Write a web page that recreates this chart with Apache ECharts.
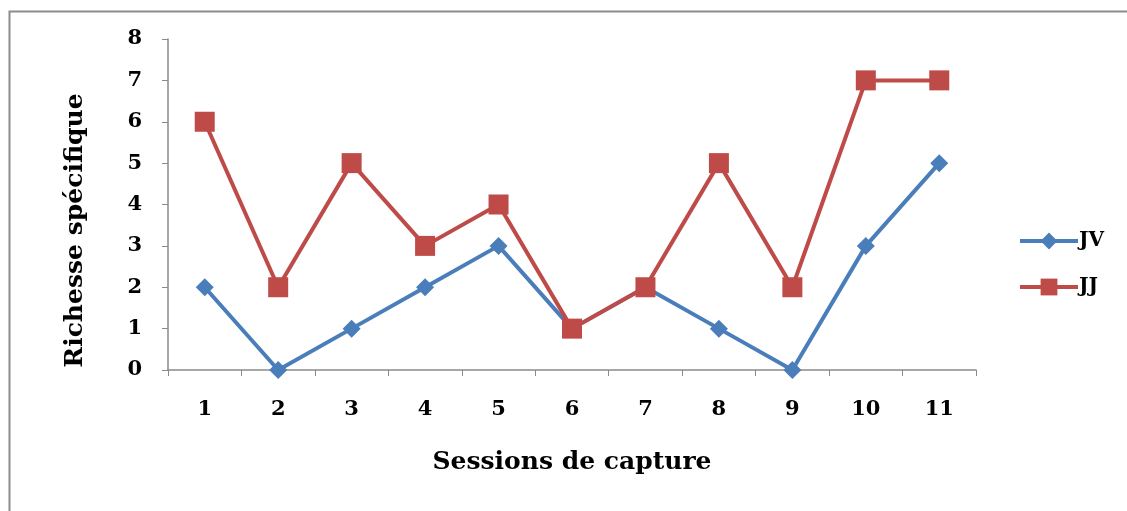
<!DOCTYPE html>
<html>
<head>
<meta charset="utf-8">
<script src="https://cdn.jsdelivr.net/npm/echarts@6/dist/echarts.min.js"></script>
<style>html,body{margin:0;padding:0;background:#fff;}#c{width:1127px;height:511px;}</style>
</head>
<body>
<div id="c"></div>
<script>
const categories = ['1','2','3','4','5','6','7','8','9','10','11'];
const jv = [2,0,1,2,3,1,2,1,0,3,5];
const jj = [6,2,5,3,4,1,2,5,2,7,7];
const yTicks = [0,1,2,3,4,5,6,7,8];

const FONT = 'DejaVu Serif';
const chart = echarts.init(document.getElementById('c'), null, {renderer:'canvas'});
chart.setOption({
  animation: false,
  backgroundColor: '#fff',
  graphic: [{
    type: 'rect', left: 7, top: 9,
    shape: {width: 1125, height: 501},
    style: {fill: 'none', stroke: '#8c8c8c', lineWidth: 2},
    silent: true
  }],
  grid: {left: 168, top: 39, right: 151, bottom: 141, containLabel: false},
  legend: {
    orient: 'vertical', left: 1013, top: 226, itemGap: 26,
    itemWidth: 58, itemHeight: 21,
    lineStyle: {width: 4},
    textStyle: {fontFamily: FONT, fontWeight: 'bold', fontSize: 20, color: '#000', padding: [0,0,0,-4]},
    data: ['JV', 'JJ']
  },
  xAxis: {
    type: 'category', data: categories, boundaryGap: true,
    name: 'Sessions de capture', nameLocation: 'middle', nameGap: 80,
    nameTextStyle: {fontFamily: FONT, fontWeight: 'bold', fontSize: 25, color: '#000'},
    axisLine: {lineStyle: {color: '#8a8a8a', width: 1.5}},
    axisTick: {show: true, length: 6, alignWithLabel: false, lineStyle: {color: '#8a8a8a'}},
    axisLabel: {fontFamily: FONT, fontWeight: 'bold', fontSize: 21, color: '#000', margin: 29},
    splitLine: {show: false}
  },
  yAxis: {
    type: 'value', min: yTicks[0], max: yTicks[yTicks.length-1], interval: 1,
    name: 'Richesse spécifique', nameLocation: 'middle', nameGap: 80, nameRotate: 90,
    nameTextStyle: {fontFamily: FONT, fontWeight: 'bold', fontSize: 25, color: '#000', padding: [0, 52, 0, 0]},
    axisLine: {show: true, lineStyle: {color: '#8a8a8a', width: 1.5}},
    axisTick: {show: true, length: 6, lineStyle: {color: '#8a8a8a'}},
    axisLabel: {fontFamily: FONT, fontWeight: 'bold', fontSize: 21, color: '#000', margin: 26},
    splitLine: {show: false}
  },
  series: [
    {name: 'JV', type: 'line', data: jv, symbol: 'diamond', symbolSize: 18,
     lineStyle: {color: '#4a7ebb', width: 4}, itemStyle: {color: '#4a7ebb'}},
    {name: 'JJ', type: 'line', data: jj, symbol: 'rect', symbolSize: 20,
     lineStyle: {color: '#be4b48', width: 4}, itemStyle: {color: '#be4b48'}}
  ]
});
</script>
</body>
</html>
